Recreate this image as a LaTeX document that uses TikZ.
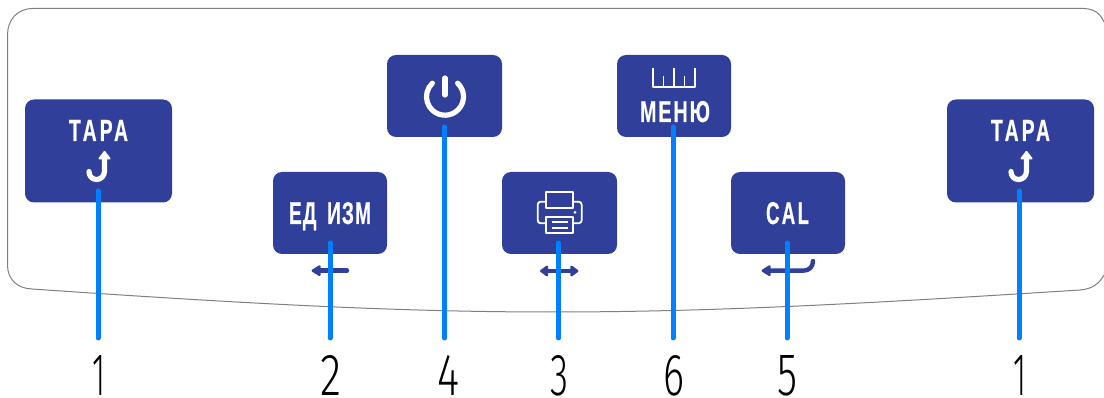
\documentclass[tikz,border=0pt]{standalone}
\usepackage{fontspec}
\usepackage{graphicx}
\setmainfont{Liberation Sans}
\newfontfamily\digitfont{Fira Sans Light}
\definecolor{btnblue}{HTML}{30409A}
\definecolor{linkblue}{HTML}{0080FF}
\definecolor{panelgray}{HTML}{808080}
\tikzset{
  x=1pt,y=-1pt,
  btn/.style={draw=none,fill=btnblue,rounded corners=9pt,inner sep=0pt,minimum width=#1,minimum height=82pt},
  btnlabel/.style={text=white,inner sep=0pt,font=\bfseries},
  digit/.style={text=black,inner sep=0pt,font=\digitfont},
  leader/.style={draw=linkblue,line width=5pt,line cap=round},
  icon/.style={draw=white,line width=5.2pt,line join=round},
  iconthin/.style={draw=white,line width=1.8pt,line join=round},
  softarrow/.style={draw=btnblue,line width=4.4pt,line cap=round,line join=round},
  softhead/.style={draw=btnblue,fill=btnblue,line width=2.4pt,line join=round},
}
\newcommand{\hooktara}[2]{%
  \draw[icon,line cap=round] (#1+104.5,#2+157) -- (#1+104.5,#2+171) .. controls (#1+104.5,#2+176) and (#1+101,#2+179.5) .. (#1+96.5,#2+179.5) .. controls (#1+92,#2+179.5) and (#1+89,#2+176) .. (#1+89,#2+171.5);
  \fill[white,draw=white,line width=2pt,line join=round] (#1+104.5,#2+152) -- (#1+109.5,#2+158.5) -- (#1+99.5,#2+158.5) -- cycle;
}
\begin{document}
\begin{tikzpicture}
\useasboundingbox (0,0) rectangle (1104,398);
% panel
\draw[panelgray,line width=1pt] (1104,22) .. controls (1100,13) and (1094,9) .. (1084,8.5) -- (33,8.5)
  .. controls (17,8.5) and (7.5,20) .. (7.5,35) -- (7.5,265)
  .. controls (7.5,280) and (18,288.5) .. (32,289)
  .. controls (250,304) and (400,312) .. (552,312)
  .. controls (710,312) and (860,304) .. (1080,290)
  .. controls (1092,289) and (1099,284) .. (1104,275);
% buttons
\node[btn=147pt,minimum height=103pt] (taraL) at (98.5,151) {};
\node[btn=147pt,minimum height=103pt] (taraR) at (1020.5,151) {};
\node[btn=114pt] (edizm) at (330,213) {};
\node[btn=115pt] (power) at (444.5,96) {};
\node[btn=115pt] (print) at (559.5,213) {};
\node[btn=114pt] (menu) at (674,96) {};
\node[btn=114pt] (cal) at (788,213) {};
% button texts
\node[btnlabel] (tL) at (98.5,130.5) {\resizebox{59pt}{21pt}{\addfontfeature{LetterSpace=16,FakeBold=0.6}ТАРА}};
\node[btnlabel] (tR) at (1020.5,130.5) {\resizebox{59pt}{21pt}{\addfontfeature{LetterSpace=16,FakeBold=0.6}ТАРА}};
\node[btnlabel,anchor=base] (tE) at (330,224) {\resizebox{82pt}{22pt}{\addfontfeature{LetterSpace=6,FakeBold=0.6}ЕД\hspace{0.55em}ИЗМ}};
\node[btnlabel,anchor=base] (tM) at (675,122) {\resizebox{70pt}{21pt}{\addfontfeature{LetterSpace=10,FakeBold=0.6}МЕНЮ}};
\node[btnlabel,anchor=base] (tC) at (787.5,224) {\resizebox{43pt}{22pt}{\addfontfeature{LetterSpace=12,FakeBold=0.6}CAL}};
% tara hooks
\hooktara{0}{0}
\hooktara{922}{0}
% power icon
\draw[icon,line cap=round] (445,96.7) ++(-47:18.5) arc[start angle=-47,end angle=227,radius=18.5];
\draw[icon,line cap=round] (445,78) -- (445,95);
% printer icon
\draw[iconthin] (545.7,192.3) rectangle (573.3,207.7);
\draw[iconthin,rounded corners=3pt] (545.7,201.7) -- (537.7,201.7) -- (537.7,223.3) -- (545.7,223.3);
\draw[iconthin,rounded corners=3pt] (573.3,201.7) -- (581.7,201.7) -- (581.7,223.3) -- (573.3,223.3);
\draw[iconthin,fill=btnblue] (545.7,216.7) rectangle (573.3,233.3);
\draw[iconthin] (551.7,222.3) -- (568.3,222.3) (551.7,228.3) -- (568.3,228.3);
\fill[white] (575,212.3) circle[radius=1.5];
% ruler icon
\draw[iconthin,line cap=butt] (653.3,68.3) -- (653.3,86.7) -- (695,86.7) -- (695,68.3)
  (663.5,76) -- (663.5,86.7) (674,68.3) -- (674,86.7) (684.5,76) -- (684.5,86.7);
% arrows under the buttons
\draw[softarrow] (318,270.7) -- (347,270.7);
\draw[softhead] (312.8,270.7) -- (319.5,266.5) -- (319.5,274.9) -- cycle;
\draw[softarrow] (546,271) -- (572,271);
\draw[softhead] (541.3,271) -- (547,266.8) -- (547,275.2) -- cycle;
\draw[softhead] (577.2,271) -- (571.5,266.8) -- (571.5,275.2) -- cycle;
\draw[softarrow] (768,270.7) -- (803,270.7) .. controls (809,270.7) and (813,267) .. (813,261);
\draw[softhead] (762.8,270.7) -- (769.5,266.5) -- (769.5,274.9) -- cycle;
% digits
\node[digit,anchor=south] (n1) at (98.5,396) {\resizebox{13pt}{40pt}{1}};
\node[digit,anchor=south] (n2) at (330.5,396) {\resizebox{21pt}{40pt}{2}};
\node[digit,anchor=south] (n4) at (448,396) {\resizebox{22pt}{40pt}{4}};
\node[digit,anchor=south] (n3) at (559,396) {\resizebox{18pt}{40pt}{3}};
\node[digit,anchor=south] (n6) at (673.5,396) {\resizebox{21pt}{40pt}{6}};
\node[digit,anchor=south] (n5) at (787,396) {\resizebox{20pt}{40pt}{5}};
\node[digit,anchor=south] (n1b) at (1019.5,396) {\resizebox{13pt}{40pt}{1}};
% leader ends
\coordinate (a1) at (98,191); \coordinate (b1) at (98,338);
\coordinate (a2) at (330,243); \coordinate (b2) at (330,338);
\coordinate (a4) at (444.5,127); \coordinate (b4) at (444.5,338);
\coordinate (a3) at (558.5,243); \coordinate (b3) at (558.5,338);
\coordinate (a6) at (673,127); \coordinate (b6) at (673,338);
\coordinate (a5) at (787,243); \coordinate (b5) at (787,338);
\coordinate (a7) at (1019,191); \coordinate (b7) at (1019,338);
\foreach \i in {1,...,7} \draw[leader] (a\i) -- (b\i);
\end{tikzpicture}
\end{document}
